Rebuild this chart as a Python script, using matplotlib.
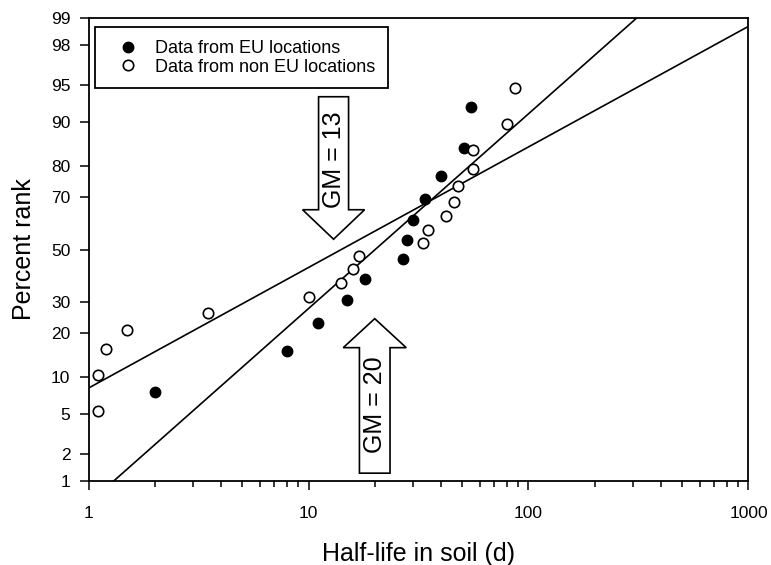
import math
from statistics import NormalDist

import numpy as np
import matplotlib
matplotlib.use("Agg")
import matplotlib.pyplot as plt
from matplotlib.patches import Polygon
from matplotlib.transforms import ScaledTranslation

plt.rcParams['font.family'] = ['Liberation Sans', 'DejaVu Sans']

# half-life in soil (d) and percent rank, EU locations
eu_halflife = [2, 8, 11, 15, 18, 27, 28, 30, 34, 40, 51, 55]
eu_rank = [7.7, 15.4, 23.1, 30.8, 38.5, 46.2, 53.8, 61.5, 69.2, 76.9, 84.6, 92.3]

# non EU locations
noneu_halflife = [1.1, 1.1, 1.2, 1.5, 3.5, 10, 14, 16, 17, 33, 35, 42, 46, 48, 56, 56, 80, 87]
noneu_rank = [5.3, 10.5, 15.8, 21.1, 26.3, 31.6, 36.8, 42.1, 47.4, 52.6, 57.9, 63.2,
              68.4, 73.7, 78.9, 84.2, 89.5, 94.7]

# fitted log-normal lines: median half-life (d) and sd of log10
fit_median = [20.1, 14.1]
fit_sd = [0.512, 0.827]

gm_values = [13, 20]

y_ticks = [1, 2, 5, 10, 20, 30, 50, 70, 80, 90, 95, 98, 99]
x_ticks = [1, 10, 100, 1000]

_nd = NormalDist()


def _ppf(v):
    if not np.isfinite(v):
        return np.nan
    q = min(max(v / 100.0, 1e-12), 1 - 1e-12)
    return _nd.inv_cdf(q)


def _cdf(z):
    if not np.isfinite(z):
        return np.nan
    return 50.0 * (1.0 + math.erf(z / math.sqrt(2)))


probit = np.vectorize(_ppf, otypes=[float])
inv_probit = np.vectorize(_cdf, otypes=[float])

fig = plt.figure(figsize=(7.71, 5.65), dpi=100)
ax = fig.add_axes([0.1148, 0.1478, 0.8560, 0.8212])
ax.set_xscale('log')
ax.set_yscale('function', functions=(probit, inv_probit))
ax.set_xlim(1, 1000)
ax.set_ylim(1, 99)

xs = np.logspace(0, 3, 300)
for med, sd in zip(fit_median, fit_sd):
    pct = inv_probit((np.log10(xs) - np.log10(med)) / sd)
    ax.plot(xs, pct, color='black', lw=1.2, zorder=2)

ax.plot(eu_halflife, eu_rank, 'o', color='black', ms=7.5, mew=1,
        label='Data from EU locations', zorder=4)
ax.plot(noneu_halflife, noneu_rank, 'o', mfc='white', mec='black', ms=7.5, mew=1.2,
        label='Data from non EU locations', zorder=4)

# block arrows marking the geometric means (shape in pixels relative to tip)
down_shape = [(0, 0), (-31, 29.5), (-15, 29.5), (-15, 142.5), (15, 142.5), (15, 29.5), (31, 29.5)]
up_shape = [(x, -y) for x, y in [(0, 0), (-31.5, 29), (-15.3, 29), (-15.3, 154.5),
                                 (15.3, 154.5), (15.3, 29), (31.5, 29)]]
arrows = [(gm_values[0], 54.1, down_shape, 79.7), (gm_values[1], 24.4, up_shape, -85.7)]
for gm, tip_rank, shape, text_off in arrows:
    tr = fig.dpi_scale_trans + ScaledTranslation(gm, tip_rank, ax.transData)
    verts = np.array(shape) / 100.0
    ax.add_patch(Polygon(verts, closed=True, transform=tr, facecolor='white',
                         edgecolor='black', lw=1.2, zorder=3))
    ax.text(0, text_off / 100.0, 'GM = {}'.format(gm), transform=tr, rotation=90,
            ha='center', va='center', fontsize=18, zorder=3)

ax.set_xticks(x_ticks)
ax.set_xticklabels([str(v) for v in x_ticks])
ax.set_yticks(y_ticks)
ax.set_yticklabels([str(v) for v in y_ticks])
ax.yaxis.set_minor_locator(matplotlib.ticker.NullLocator())

ax.tick_params(axis='both', which='major', direction='out', length=6.5, width=1.1, labelsize=12.5)
ax.tick_params(axis='x', which='minor', direction='out', length=4, width=1.1)
ax.tick_params(axis='x', which='major', pad=11)
ax.tick_params(axis='y', which='major', pad=6.5)
for s in ax.spines.values():
    s.set_linewidth(1.3)

ax.set_xlabel('Half-life in soil (d)', fontsize=18, labelpad=15)
ax.set_ylabel('Percent rank', fontsize=18, labelpad=10.5)

leg = ax.legend(loc='upper left', bbox_to_anchor=(0.00985, 0.9789), borderaxespad=0,
                fontsize=13, fancybox=False, edgecolor='black', framealpha=1,
                borderpad=0.7, labelspacing=0.1, handlelength=2.27, handletextpad=0.35,
                numpoints=1)
leg.get_frame().set_linewidth(1.3)

fig.savefig('out.png', dpi=100)
